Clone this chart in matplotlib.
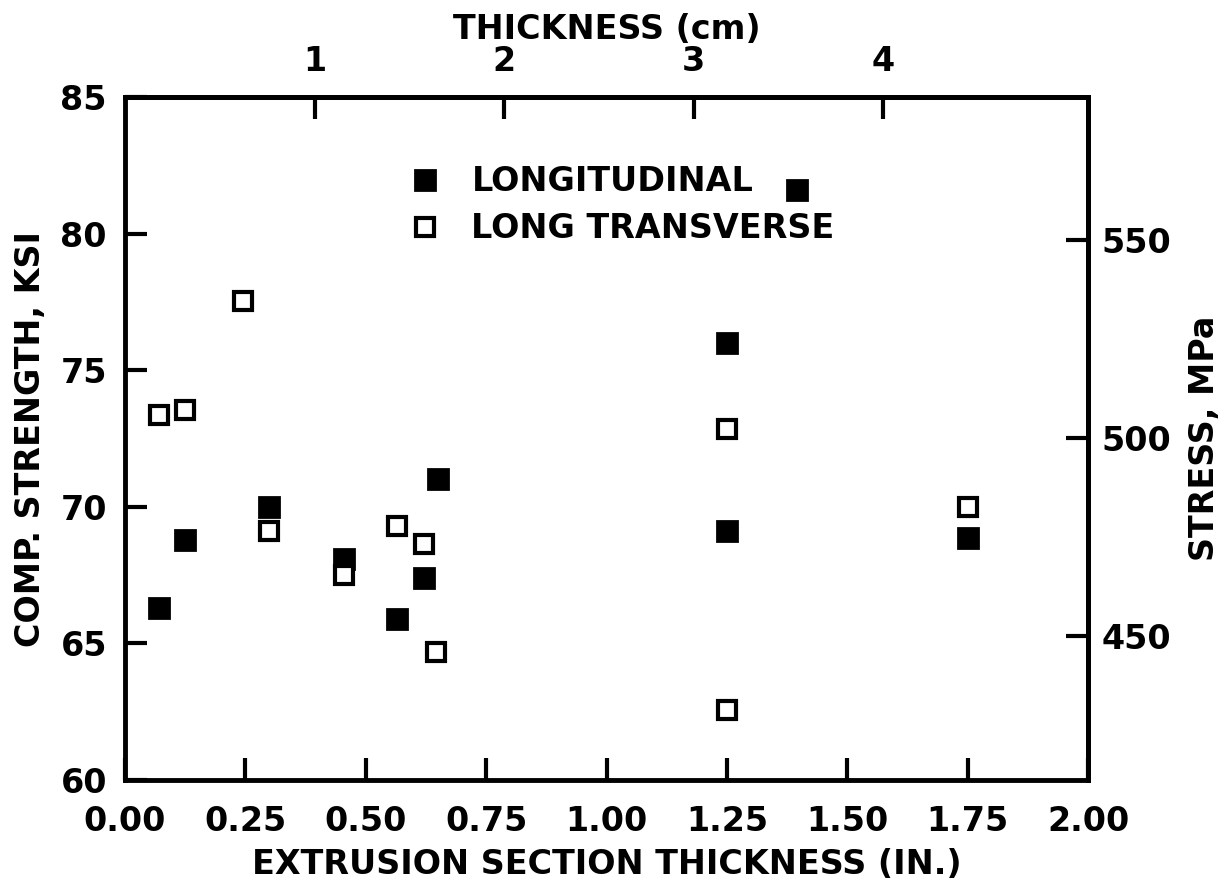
import matplotlib
matplotlib.use("Agg")
import matplotlib.pyplot as plt
import numpy as np

# extrusion section thickness (in.) and compressive strength (ksi)
long_x = [0.07, 0.125, 0.30, 0.455, 0.565, 0.62, 0.65, 1.25, 1.25, 1.395, 1.75]
long_y = [66.3, 68.8, 70.0, 68.1, 65.9, 67.4, 71.0, 76.0, 69.1, 81.6, 68.85]

trans_x = [0.07, 0.125, 0.245, 0.30, 0.455, 0.565, 0.62, 0.645, 1.25, 1.25, 1.75]
trans_y = [73.35, 73.55, 77.55, 69.1, 67.5, 69.3, 68.65, 64.7, 72.85, 62.55, 70.0]

x_ticks = [0.0, 0.25, 0.5, 0.75, 1.0, 1.25, 1.5, 1.75, 2.0]
y_ticks = [60, 65, 70, 75, 80, 85]
cm_ticks = [1, 2, 3, 4]
mpa_ticks = [450, 500, 550]

plt.rcParams['font.family'] = ['DejaVu Sans']
plt.rcParams['font.weight'] = 'bold'
plt.rcParams['axes.labelweight'] = 'bold'

FS = 24

fig = plt.figure(figsize=(12.29, 8.9), dpi=100)
ax = fig.add_axes([0.1017, 0.1236, 0.7836, 0.7674])

ax.plot(long_x, long_y, ls='none', marker='s', ms=14, mfc='black', mec='black',
        mew=2, label='LONGITUDINAL')
ax.plot(trans_x, trans_y, ls='none', marker='s', ms=13, mfc='white', mec='black',
        mew=3, label='LONG TRANSVERSE')

ax.set_xlim(0, 2.0)
ax.set_ylim(60, 85)
ax.set_xticks(x_ticks)
ax.set_xticklabels([f"{v:.2f}" for v in x_ticks])
ax.set_yticks(y_ticks)

for s in ax.spines.values():
    s.set_linewidth(3.5)

ax.tick_params(axis='both', direction='in', length=16, width=3, labelsize=FS)
ax.tick_params(axis='x', pad=18)
ax.tick_params(axis='y', pad=13)

ax.set_xlabel('EXTRUSION SECTION THICKNESS (IN.)', fontsize=FS, labelpad=7)
ax.set_ylabel('COMP. STRENGTH, KSI', fontsize=FS, labelpad=10)

top = ax.secondary_xaxis('top', functions=(lambda x: x * 2.54, lambda c: c / 2.54))
top.set_xticks(cm_ticks)
top.spines['top'].set_linewidth(3.5)
top.tick_params(direction='in', length=16, width=3, labelsize=FS, pad=14)
top.set_xlabel('THICKNESS (cm)', fontsize=FS, labelpad=4)

right = ax.secondary_yaxis('right', functions=(lambda k: k * 6.895, lambda m: m / 6.895))
right.set_yticks(mpa_ticks)
right.spines['right'].set_linewidth(3.5)
right.tick_params(direction='in', length=16, width=3, labelsize=FS, pad=10)
right.set_ylabel('STRESS, MPa', fontsize=FS, labelpad=12)

leg = ax.legend(loc='upper left', bbox_to_anchor=(0.294, 0.90), frameon=False,
                fontsize=FS, handletextpad=0.9, labelspacing=0.42, borderpad=0,
                borderaxespad=0, handlelength=1.0)

fig.savefig('out.png', dpi=100)
